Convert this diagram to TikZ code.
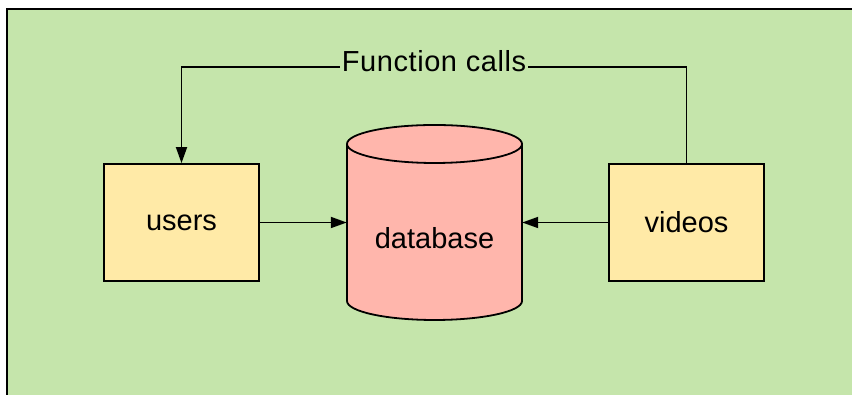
\documentclass[tikz,border=0pt]{standalone}
\usepackage{fontspec}
\setmainfont{Liberation Sans}
\usetikzlibrary{arrows.meta}
\definecolor{bggreen}{RGB}{197,229,171}
\definecolor{boxyellow}{RGB}{255,234,167}
\definecolor{dbpink}{RGB}{255,182,172}
\tikzset{
    svc/.style={draw, line width=1.8pt, fill=boxyellow, minimum width=155pt, minimum height=117pt, font=\fontsize{29}{34}\selectfont}, % service boxes
    conn/.style={line width=1.8pt, -{Triangle[length=16pt, width=11pt]}} % connectors
}

\begin{document}
\begin{tikzpicture}[x=1pt, y=1pt]
    \def\dbx{434.5} \def\rx{87.5} \def\ry{19} \def\dbtop{251} \def\dbbot{94}
    \useasboundingbox (0,0) rectangle (852,395);
    \clip (0,0) rectangle (852,395);

    \draw[line width=2.2pt, fill=bggreen] (7,-20) rectangle (880,386);

    % database cylinder
    \fill[dbpink] (\dbx-\rx,\dbtop) -- (\dbx-\rx,\dbbot) arc[start angle=180, end angle=360, x radius=\rx, y radius=\ry] -- (\dbx+\rx,\dbtop) -- cycle;
    \draw[line width=1.8pt] (\dbx-\rx,\dbtop) -- (\dbx-\rx,\dbbot) arc[start angle=180, end angle=360, x radius=\rx, y radius=\ry] -- (\dbx+\rx,\dbtop);
    \draw[line width=1.8pt, fill=dbpink] (\dbx,\dbtop) ellipse[x radius=\rx, y radius=\ry];
    \node (db) [minimum width=175pt, minimum height=195pt, inner sep=0pt,
        label={[font=\fontsize{29}{34}\selectfont, yshift=-15.5pt]center:database}] at (\dbx,172.5) {};

    \node (users) [svc] at (181.5,172.5) {users};
    \node (videos) [svc] at (686.5,172.5) {videos};

    \draw[conn] (users) -- (db);
    \draw[conn] (videos) -- (db);

    \coordinate (fcline) at (434,328);
    \draw[conn] (videos.north) |- (fcline) -| (users.north);
    \node (fc) [fill=bggreen, inner xsep=2pt, inner ysep=1pt, anchor=base, font=\fontsize{29}{34}\selectfont\addfontfeatures{LetterSpace=2}] at (434,323) {Function calls};
\end{tikzpicture}
\end{document}
